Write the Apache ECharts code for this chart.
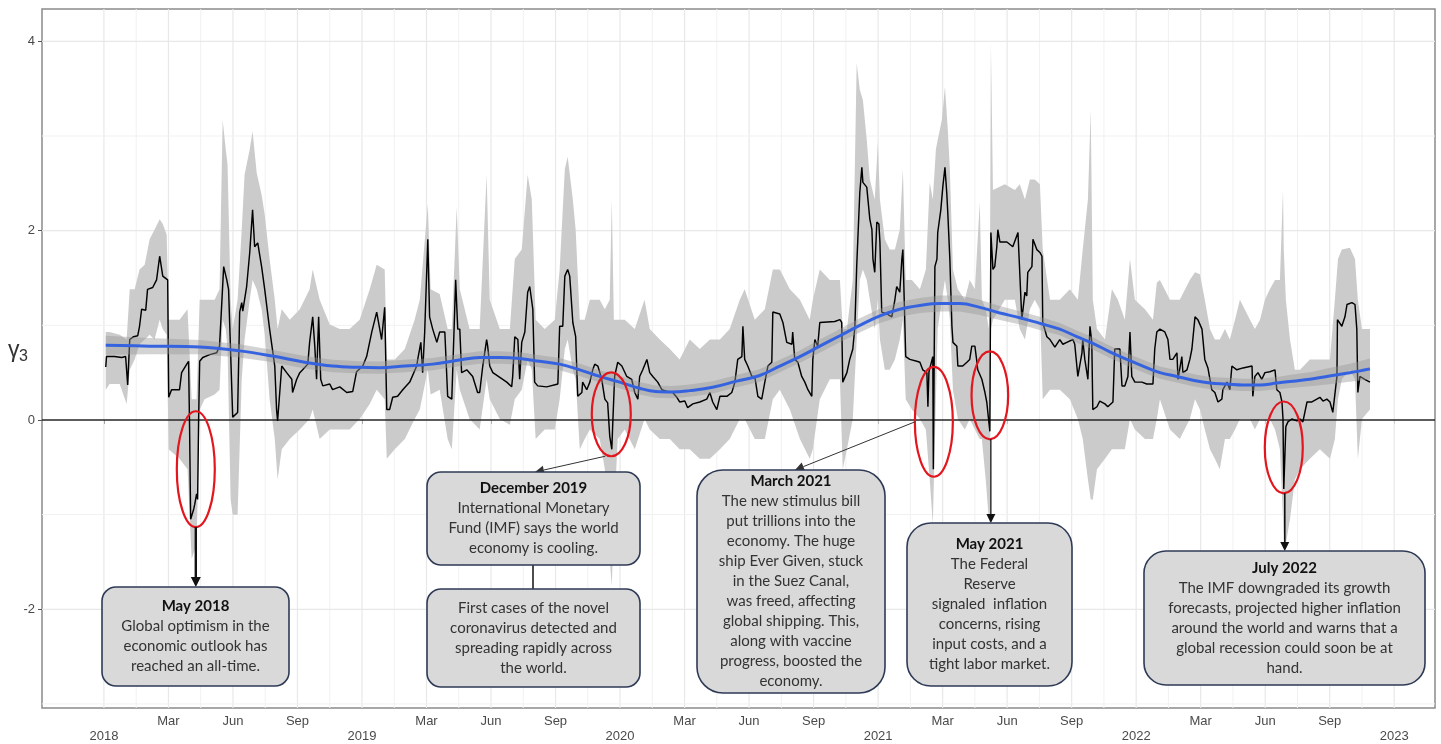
<!DOCTYPE html>
<html><head><meta charset="utf-8">
<script src="https://cdn.jsdelivr.net/npm/echarts@6/dist/echarts.min.js"></script>
<style>html,body{margin:0;padding:0;background:#fff}#c{width:1441px;height:744px}</style>
</head><body><div id="c"></div>
<script>
// ---------- DATA (time in decimal years) ----------
const gammaT = [
2018.007,2018.010,2018.041,2018.069,2018.084,2018.092,2018.100,2018.115,2018.131,2018.138,
2018.146,2018.162,2018.169,2018.189,2018.204,2018.216,2018.228,2018.247,2018.251,2018.262,
2018.293,2018.301,2018.321,2018.328,2018.332,2018.336,2018.348,2018.352,2018.359,2018.363,
2018.367,2018.371,2018.383,2018.410,2018.437,2018.448,2018.464,2018.476,2018.483,2018.499,
2018.518,2018.526,2018.534,2018.538,2018.553,2018.565,2018.576,2018.584,2018.596,2018.611,
2018.623,2018.642,2018.662,2018.669,2018.673,2018.689,2018.708,2018.728,2018.731,2018.747,
2018.759,2018.770,2018.790,2018.797,2018.809,2018.817,2018.824,2018.832,2018.840,2018.848,
2018.875,2018.886,2018.914,2018.941,2018.964,2018.979,2019.003,2019.018,2019.038,2019.057,
2019.076,2019.088,2019.096,2019.107,2019.119,2019.138,2019.158,2019.185,2019.212,2019.216,
2019.228,2019.235,2019.243,2019.255,2019.262,2019.274,2019.290,2019.301,2019.321,2019.332,
2019.348,2019.363,2019.371,2019.379,2019.386,2019.406,2019.429,2019.448,2019.456,2019.468,
2019.483,2019.487,2019.495,2019.507,2019.534,2019.561,2019.580,2019.584,2019.592,2019.604,
2019.611,2019.619,2019.631,2019.642,2019.650,2019.662,2019.669,2019.681,2019.716,2019.759,
2019.766,2019.778,2019.786,2019.797,2019.805,2019.817,2019.828,2019.836,2019.852,2019.855,
2019.871,2019.883,2019.894,2019.902,2019.914,2019.929,2019.941,2019.952,2019.960,2019.968,
2019.972,2019.979,2019.991,2020.007,2020.026,2020.045,2020.057,2020.069,2020.076,2020.088,
2020.104,2020.115,2020.127,2020.146,2020.162,2020.185,2020.204,2020.220,2020.231,2020.251,
2020.262,2020.282,2020.309,2020.336,2020.348,2020.359,2020.375,2020.387,2020.414,2020.433,
2020.445,2020.456,2020.472,2020.476,2020.483,2020.495,2020.511,2020.522,2020.534,2020.549,
2020.561,2020.573,2020.588,2020.592,2020.619,2020.631,2020.646,2020.666,2020.669,2020.677,
2020.689,2020.704,2020.716,2020.728,2020.743,2020.747,2020.755,2020.766,2020.774,2020.832,
2020.852,2020.859,2020.863,2020.879,2020.890,2020.902,2020.910,2020.917,2020.929,2020.937,
2020.941,2020.956,2020.968,2020.976,2020.980,2020.987,2020.995,2021.003,2021.007,2021.014,
2021.034,2021.053,2021.065,2021.072,2021.084,2021.092,2021.096,2021.103,2021.107,2021.123,
2021.150,2021.162,2021.173,2021.189,2021.193,2021.197,2021.200,2021.212,2021.214,2021.220,
2021.228,2021.231,2021.243,2021.251,2021.259,2021.266,2021.270,2021.278,2021.286,2021.290,
2021.305,2021.309,2021.328,2021.344,2021.355,2021.363,2021.375,2021.383,2021.386,2021.402,
2021.414,2021.421,2021.433,2021.437,2021.445,2021.452,2021.460,2021.464,2021.472,2021.499,
2021.522,2021.542,2021.549,2021.557,2021.569,2021.576,2021.580,2021.596,2021.600,2021.615,
2021.627,2021.635,2021.638,2021.654,2021.666,2021.685,2021.704,2021.716,2021.731,2021.755,
2021.762,2021.774,2021.790,2021.793,2021.801,2021.813,2021.821,2021.828,2021.832,2021.848,
2021.859,2021.879,2021.890,2021.910,2021.917,2021.937,2021.945,2021.956,2021.968,2021.976,
2021.983,2021.995,2022.022,2022.041,2022.065,2022.072,2022.080,2022.092,2022.111,2022.123,
2022.131,2022.142,2022.158,2022.162,2022.177,2022.181,2022.197,2022.208,2022.216,2022.228,
2022.239,2022.255,2022.266,2022.278,2022.293,2022.305,2022.317,2022.332,2022.336,2022.352,
2022.363,2022.371,2022.390,2022.414,2022.449,2022.452,2022.460,2022.472,2022.487,2022.499,
2022.518,2022.538,2022.545,2022.557,2022.565,2022.569,2022.572,2022.580,2022.588,2022.603,
2022.623,2022.635,2022.646,2022.662,2022.681,2022.700,2022.712,2022.724,2022.739,2022.751,
2022.762,2022.778,2022.780,2022.797,2022.809,2022.817,2022.836,2022.848,2022.855,2022.859,
2022.867,2022.886,2022.906];
const gammaV = [
0.56,0.67,0.67,0.66,0.67,0.37,0.85,0.88,0.89,0.99,
1.17,1.16,1.38,1.40,1.48,1.73,1.52,1.48,0.24,0.32,
0.32,0.50,0.59,0.62,-0.10,-1.05,-0.94,-0.89,-0.78,-0.84,
0.01,0.62,0.66,0.69,0.71,0.78,1.62,1.48,1.38,0.03,
0.08,1.14,1.24,1.15,1.41,1.77,2.22,1.83,1.87,1.62,
1.38,0.96,0.57,0.11,-0.01,0.57,0.50,0.43,0.29,0.43,
0.50,0.53,0.59,0.82,1.09,0.78,0.43,1.09,0.43,0.36,
0.38,0.32,0.35,0.29,0.30,0.51,0.57,0.67,0.93,1.14,
0.85,1.19,0.11,0.11,0.24,0.25,0.32,0.40,0.57,0.64,
0.82,0.50,0.93,1.91,1.09,0.96,0.82,0.93,0.93,0.25,
0.22,1.48,0.96,0.96,0.50,0.53,0.46,0.29,0.29,0.57,
0.85,0.78,0.57,0.50,0.45,0.40,0.35,0.46,0.88,0.85,
0.43,0.82,0.93,1.35,1.41,1.17,0.40,0.36,0.35,0.38,
0.99,0.99,1.52,1.59,1.52,1.03,0.88,0.25,0.29,0.40,
0.32,0.40,0.53,0.59,0.57,0.43,0.22,0.18,-0.17,-0.31,
-0.02,0.46,0.61,0.57,0.46,0.43,0.29,0.22,0.46,0.53,
0.64,0.50,0.46,0.40,0.32,0.30,0.29,0.24,0.19,0.20,
0.13,0.17,0.19,0.22,0.29,0.19,0.11,0.25,0.25,0.29,
0.40,0.64,0.67,0.99,0.64,0.57,0.46,0.46,0.25,0.22,
0.40,0.57,0.61,1.14,1.12,1.03,0.82,0.80,0.93,0.64,
0.61,0.46,0.40,0.32,0.25,0.64,0.85,0.78,1.03,1.04,
1.06,1.03,0.40,0.50,0.64,0.75,0.99,1.62,2.40,2.67,
2.51,2.46,2.12,2.01,1.70,1.56,2.09,2.07,1.88,1.14,
1.12,1.09,1.27,1.41,1.35,1.70,1.80,1.80,0.67,0.64,
0.62,0.61,0.53,0.50,0.14,0.51,0.50,0.67,-0.52,1.62,
1.70,1.98,2.22,2.47,2.67,2.40,2.19,1.70,0.99,0.82,
0.78,0.57,0.57,0.61,0.64,0.78,0.78,0.61,0.53,0.43,
0.29,0.19,-0.12,1.98,1.59,1.62,1.83,2.01,1.88,1.88,
1.83,1.98,1.98,1.06,1.35,1.31,1.56,1.62,1.91,1.80,
1.77,1.73,1.03,0.88,0.85,0.77,0.85,0.80,0.82,0.85,
0.80,0.46,0.71,0.85,0.64,0.43,0.99,0.82,0.11,0.14,
0.20,0.17,0.14,0.19,0.75,0.75,0.36,0.36,0.46,0.93,
0.46,0.40,0.40,0.38,0.38,0.75,0.93,0.96,0.93,0.85,
0.64,0.64,0.71,0.43,0.67,0.50,0.53,0.64,0.75,1.09,
1.06,0.96,0.64,0.55,0.32,0.29,0.19,0.22,0.32,0.40,
0.32,0.57,0.53,0.55,0.57,0.25,0.46,0.50,0.43,0.50,
0.51,0.53,0.32,0.29,0.19,0.01,-0.73,-0.07,-0.02,0.01,
-0.01,0.01,-0.02,0.19,0.19,0.22,0.24,0.20,0.22,0.19,
0.08,0.46,1.06,0.99,1.09,1.22,1.24,1.22,0.96,0.29,
0.46,0.43,0.40];

const bandT = [
2018.007,2018.022,2018.061,2018.088,2018.100,2018.119,2018.138,2018.158,2018.177,2018.196,
2018.216,2018.228,2018.243,2018.251,2018.293,2018.324,2018.340,2018.359,2018.371,2018.390,
2018.429,2018.448,2018.460,2018.472,2018.479,2018.491,2018.499,2018.518,2018.534,2018.545,
2018.565,2018.576,2018.592,2018.611,2018.623,2018.642,2018.662,2018.673,2018.689,2018.720,
2018.759,2018.797,2018.809,2018.836,2018.875,2018.914,2018.952,2018.991,2019.030,2019.057,
2019.088,2019.096,2019.127,2019.166,2019.204,2019.224,2019.255,2019.266,2019.301,2019.332,
2019.348,2019.367,2019.379,2019.417,2019.456,2019.483,2019.495,2019.534,2019.573,2019.592,
2019.619,2019.642,2019.658,2019.673,2019.708,2019.747,2019.766,2019.786,2019.797,2019.817,
2019.828,2019.844,2019.863,2019.883,2019.921,2019.941,2019.960,2019.968,2019.976,2019.991,
2020.018,2020.057,2020.095,2020.115,2020.154,2020.193,2020.231,2020.270,2020.309,2020.348,
2020.387,2020.425,2020.464,2020.483,2020.522,2020.561,2020.592,2020.619,2020.658,2020.697,
2020.735,2020.747,2020.774,2020.813,2020.852,2020.863,2020.879,2020.902,2020.917,2020.929,
2020.941,2020.956,2020.968,2020.987,2020.999,2021.007,2021.026,2021.045,2021.065,2021.084,
2021.096,2021.107,2021.131,2021.162,2021.185,2021.200,2021.212,2021.224,2021.231,2021.247,
2021.259,2021.270,2021.278,2021.290,2021.309,2021.336,2021.355,2021.375,2021.394,2021.402,
2021.417,2021.429,2021.433,2021.437,2021.445,2021.491,2021.530,2021.549,2021.569,2021.588,
2021.607,2021.627,2021.638,2021.666,2021.704,2021.743,2021.774,2021.793,2021.813,2021.824,
2021.832,2021.848,2021.879,2021.906,2021.929,2021.956,2021.976,2021.995,2022.034,2022.065,
2022.080,2022.092,2022.131,2022.169,2022.208,2022.228,2022.247,2022.266,2022.286,2022.305,
2022.324,2022.344,2022.363,2022.383,2022.402,2022.441,2022.460,2022.480,2022.499,2022.518,
2022.538,2022.557,2022.569,2022.572,2022.580,2022.596,2022.615,2022.635,2022.673,2022.712,
2022.751,2022.770,2022.782,2022.797,2022.828,2022.848,2022.859,2022.875,2022.906];
const bandHi = [
0.93,0.93,0.90,0.85,1.38,1.38,1.59,1.64,1.91,2.01,
2.12,2.07,1.96,1.06,1.06,1.17,0.22,0.22,1.27,1.27,
1.27,1.38,3.17,2.86,2.70,1.27,0.96,1.27,2.01,2.59,
2.86,3.05,2.61,2.38,2.17,1.70,1.27,0.96,1.17,1.06,
1.17,1.38,1.59,1.27,1.01,0.96,0.96,1.06,1.38,1.64,
1.59,0.64,0.64,0.75,1.06,1.27,2.28,1.38,1.33,0.96,
0.96,2.25,1.38,0.96,0.96,2.59,1.27,0.96,0.96,1.70,
1.80,2.59,2.33,1.06,0.96,1.06,1.59,2.65,2.78,2.33,
2.01,1.06,1.06,1.27,1.27,1.17,1.27,2.33,1.06,1.06,
1.06,0.96,1.27,0.96,0.85,0.75,0.64,0.85,0.75,0.85,
0.85,0.96,1.27,1.38,1.06,1.17,1.59,1.59,1.38,1.27,
1.06,1.27,1.59,1.48,1.48,0.96,0.96,1.48,3.77,3.49,
3.38,2.96,2.54,2.33,2.93,2.33,1.91,1.80,1.80,2.01,
2.65,1.48,1.48,1.38,1.59,2.51,2.33,2.86,2.96,3.17,
3.52,3.07,2.65,1.59,1.38,1.27,1.48,1.38,2.30,1.27,
1.17,0.96,1.27,3.99,2.43,2.49,2.43,2.49,2.33,2.54,
2.54,2.49,1.80,1.27,1.27,1.38,1.27,1.80,2.33,3.28,
1.27,0.96,0.85,1.38,1.27,1.06,1.70,1.27,1.17,1.06,
1.45,1.48,1.27,1.27,1.48,1.56,1.54,1.27,0.96,0.85,
0.85,0.96,0.85,1.06,1.27,1.06,0.96,1.06,1.27,1.38,
1.48,1.48,2.43,1.80,1.27,0.85,0.53,0.53,0.64,0.64,
0.64,1.27,1.70,1.80,1.82,1.70,1.27,0.96,0.96];
const bandLo = [
0.32,0.38,0.38,0.17,0.53,0.64,0.80,0.85,0.90,0.85,
1.06,0.96,0.90,-0.31,-0.41,-0.52,-1.47,-1.31,0.11,0.22,
0.27,0.32,1.06,0.96,0.75,-0.84,-1.00,-1.00,0.43,0.85,
1.27,1.48,1.38,1.17,0.90,0.22,-0.20,-0.63,-0.31,-0.20,
-0.10,0.01,0.11,-0.20,-0.10,-0.10,-0.10,0.01,0.17,0.32,
0.22,-0.41,-0.31,-0.20,0.01,0.11,0.53,0.27,0.32,-0.20,
-0.31,0.53,0.32,0.01,-0.10,0.43,0.22,0.01,-0.05,0.22,
0.32,0.64,0.53,-0.20,-0.10,-0.10,0.22,0.75,0.85,0.53,
0.43,-0.31,-0.20,-0.10,-0.20,-0.52,-1.47,-1.76,-1.05,-0.20,
-0.10,-0.31,0.01,-0.10,-0.20,-0.20,-0.31,-0.31,-0.41,-0.41,
-0.31,-0.20,0.01,0.01,-0.20,-0.20,0.22,0.32,0.11,-0.20,
-0.41,-0.31,0.22,0.43,0.43,-0.52,-0.31,0.01,0.85,1.48,
1.59,1.48,1.27,0.96,1.27,0.85,0.53,0.53,0.64,0.85,
1.06,0.22,0.11,0.01,-0.10,-0.63,-1.10,0.22,0.96,1.27,
1.48,1.27,1.06,0.32,0.01,-0.10,0.01,-0.10,-0.20,-0.20,
-0.63,-1.05,-1.10,0.96,1.06,1.27,1.27,0.96,0.85,1.17,
1.27,1.17,0.22,0.32,0.32,0.22,0.01,-0.20,-0.63,-0.84,
-0.84,-0.52,-0.41,-0.31,-0.31,-0.31,0.01,-0.10,-0.20,-0.20,
0.01,0.22,-0.10,-0.20,0.01,0.22,0.11,-0.10,-0.31,-0.41,
-0.52,-0.20,-0.20,-0.10,0.01,0.01,-0.10,0.01,0.01,0.01,
-0.10,-0.31,-1.05,-1.31,-1.31,-1.05,-0.63,-0.52,-0.41,-0.31,
-0.41,-0.20,0.22,0.43,0.53,0.43,-0.41,0.01,0.11];

const smoothT = [
2018.007,2018.177,2018.371,2018.526,2018.654,2018.778,2018.886,2018.991,2019.069,2019.166,
2019.274,2019.371,2019.456,2019.534,2019.611,2019.689,2019.766,2019.844,2019.921,2019.999,
2020.076,2020.138,2020.204,2020.270,2020.359,2020.452,2020.541,2020.619,2020.697,2020.774,
2020.852,2020.929,2021.007,2021.084,2021.162,2021.239,2021.317,2021.394,2021.472,2021.549,
2021.627,2021.704,2021.770,2021.832,2021.898,2021.964,2022.026,2022.092,2022.158,2022.220,
2022.286,2022.352,2022.414,2022.480,2022.545,2022.607,2022.673,2022.739,2022.828,2022.906];
const smoothV = [
0.79,0.78,0.77,0.73,0.675,0.61,0.57,0.556,0.553,0.57,
0.59,0.63,0.66,0.66,0.65,0.62,0.59,0.53,0.46,0.40,
0.335,0.30,0.295,0.31,0.345,0.41,0.47,0.57,0.67,0.78,
0.89,1.00,1.10,1.17,1.21,1.23,1.23,1.19,1.13,1.08,
1.02,0.96,0.88,0.81,0.72,0.64,0.57,0.50,0.46,0.42,
0.39,0.38,0.37,0.37,0.39,0.41,0.43,0.46,0.50,0.54];
const smoothSE = [
0.10,0.085,0.075,0.07,0.065,0.065,0.065,0.065,0.065,0.065,
0.065,0.065,0.065,0.065,0.065,0.065,0.065,0.065,0.065,0.065,
0.065,0.065,0.065,0.065,0.065,0.065,0.065,0.065,0.065,0.07,
0.07,0.075,0.075,0.08,0.08,0.085,0.085,0.08,0.075,0.07,
0.07,0.065,0.065,0.065,0.065,0.065,0.065,0.065,0.065,0.065,
0.065,0.065,0.065,0.065,0.065,0.07,0.075,0.085,0.095,0.11];

const yearLabels = ['2018','2019','2020','2021','2022','2023'];
const quarterLabels = ['Mar','Jun','Sep'];
const yTickValues = [-2, 0, 2, 4];

// annotation events (ellipse centre & half-extent in data units)
const eventT  = [2018.356, 2019.966, 2021.216, 2021.433, 2022.572];
const eventV  = [-0.52, 0.06, -0.02, 0.26, -0.29];
const eventRT = [0.0736, 0.0756, 0.0736, 0.071, 0.0736];
const eventRV = [0.612, 0.443, 0.58, 0.464, 0.485];

const boxTexts = [
  ['May 2018','Global optimism in the','economic outlook has','reached an all-time.'],
  ['December 2019','International Monetary','Fund (IMF) says the world','economy is cooling.'],
  ['First cases of the novel','coronavirus detected and','spreading rapidly across','the world.'],
  ['March 2021','The new stimulus bill','put trillions into the','economy. The huge','ship Ever Given, stuck','in the Suez Canal,','was freed, affecting','global shipping. This,','along with vaccine','progress, boosted the','economy.'],
  ['May 2021','The Federal','Reserve','signaled  inflation','concerns, rising','input costs, and a','tight labor market.'],
  ['July 2022','The IMF downgraded its growth','forecasts, projected higher inflation','around the world and warns that a','global recession could soon be at','hand.']
];
const boxHasTitle = [true, true, false, true, true, true];

// ---------- CHART ----------
const X_MIN = 2017.760, X_MAX = 2023.158, Y_MIN = -3.043, Y_MAX = 4.342;
const chart = echarts.init(document.getElementById('c'), null, {renderer: 'canvas'});

const xTicks = [];
for (let y = 2018; y < 2023; y++) for (let q = 0; q < 4; q++) xTicks.push(y + q * 0.25);
xTicks.push(2023);

const vGrid = [];
xTicks.forEach(t => vGrid.push([t, 0, 1]));
for (let i = 0; i < xTicks.length - 1; i++) vGrid.push([xTicks[i] + 0.125, 0, 0]);
const hGrid = [[X_MIN, -3, 0], [X_MIN, -2, 1], [X_MIN, -1, 0], [X_MIN, 1, 0], [X_MIN, 2, 1], [X_MIN, 3, 0], [X_MIN, 4, 1]];

function lineEl(a, b, stroke, w) {
  return {type: 'line', shape: {x1: a[0], y1: a[1], x2: b[0], y2: b[1]}, style: {stroke: stroke, lineWidth: w}};
}
function ribbon(T, hi, lo, fill, z) {
  return {
    type: 'custom', z: z, silent: true, clip: true,
    encode: {x: 0, y: 1}, data: [[T[0], lo[0]]],
    renderItem: function (p, api) {
      const n = Math.min(T.length, hi.length, lo.length);
      const pts = [];
      for (let i = 0; i < n; i++) pts.push(api.coord([T[i], hi[i]]));
      for (let i = n - 1; i >= 0; i--) pts.push(api.coord([T[i], lo[i]]));
      return {type: 'polygon', shape: {points: pts}, style: {fill: fill}};
    }
  };
}
const nG = Math.min(gammaT.length, gammaV.length);
const gammaData = [];
for (let i = 0; i < nG; i++) gammaData.push([gammaT[i], gammaV[i]]);
const smoothData = smoothT.map((t, i) => [t, smoothV[i]]);
const smoothHi = smoothV.map((v, i) => v + smoothSE[i]);
const smoothLo = smoothV.map((v, i) => v - smoothSE[i]);

const axisFont = '"Liberation Sans", Arial, sans-serif';
const option = {
  animation: false,
  backgroundColor: '#ffffff',
  grid: {left: 42, right: 6, top: 9, bottom: 35, show: true, borderColor: '#8a8a8a', borderWidth: 1.5, backgroundColor: 'transparent'},
  xAxis: {
    type: 'value', min: X_MIN, max: X_MAX,
    axisLine: {show: false},
    splitLine: {show: false},
    axisTick: {show: true, customValues: xTicks, length: 4, lineStyle: {color: '#555', width: 1}},
    axisLabel: {
      customValues: xTicks, margin: 6, color: '#4a4a4a', fontSize: 13, lineHeight: 15, fontFamily: axisFont,
      formatter: function (v) {
        const y = Math.floor(v + 1e-6), q = Math.round((v - y) * 4);
        return q === 0 ? '\n' + yearLabels[y - 2018] : quarterLabels[q - 1];
      }
    }
  },
  yAxis: {
    type: 'value', min: Y_MIN, max: Y_MAX,
    axisLine: {show: false},
    splitLine: {show: false},
    axisTick: {show: true, customValues: yTickValues, length: 4, lineStyle: {color: '#555', width: 1}},
    axisLabel: {customValues: yTickValues, margin: 7, color: '#4a4a4a', fontSize: 13, fontFamily: axisFont}
  },
  series: [
    { // vertical grid
      type: 'custom', z: 1, silent: true, clip: true, encode: {x: 0, y: 1}, data: vGrid,
      renderItem: function (p, api) {
        const t = api.value(0), major = api.value(2);
        return lineEl(api.coord([t, Y_MIN]), api.coord([t, Y_MAX]), major ? '#e8e8e8' : '#f1f1f1', major ? 1.2 : 1);
      }
    },
    { // horizontal grid
      type: 'custom', z: 1, silent: true, clip: true, encode: {x: 0, y: 1}, data: hGrid,
      renderItem: function (p, api) {
        const v = api.value(1), major = api.value(2);
        return lineEl(api.coord([X_MIN, v]), api.coord([X_MAX, v]), major ? '#e8e8e8' : '#f1f1f1', major ? 1.2 : 1);
      }
    },
    ribbon(bandT, bandHi, bandLo, '#cbcbcb', 2),
    { // zero reference line
      type: 'custom', z: 3, silent: true, clip: true, encode: {x: 0, y: 1}, data: [[X_MIN, 0]],
      renderItem: function (p, api) {
        return lineEl(api.coord([X_MIN, 0]), api.coord([X_MAX, 0]), '#262626', 1.5);
      }
    },
    {
      type: 'line', z: 4, silent: true, data: gammaData, symbol: 'none', showSymbol: false,
      lineStyle: {color: '#000', width: 1.45}, clip: true
    },
    ribbon(smoothT, smoothHi, smoothLo, 'rgba(150,150,150,0.42)', 5),
    {
      type: 'line', z: 6, silent: true, data: smoothData, symbol: 'none', showSymbol: false, smooth: 0.4,
      lineStyle: {color: '#3563e0', width: 3}
    },
    { // red ellipses
      type: 'custom', z: 7, silent: true, clip: false, encode: {x: 0, y: 1},
      data: eventT.map((t, i) => [t, eventV[i], eventRT[i], eventRV[i]]),
      renderItem: function (p, api) {
        const c = api.coord([api.value(0), api.value(1)]);
        const s = api.size([api.value(2), api.value(3)]);
        return {type: 'ellipse', shape: {cx: c[0], cy: c[1], rx: s[0], ry: s[1]}, style: {fill: 'none', stroke: '#e3161e', lineWidth: 2.2}};
      }
    }
  ]
};
chart.setOption(option);

// ---------- ANNOTATIONS ----------
const px = (t, v) => chart.convertToPixel({gridIndex: 0}, [t, v]);
const ell = eventT.map((t, i) => {
  const c = px(t, eventV[i]), e = px(t + eventRT[i], eventV[i] - eventRV[i]);
  return {cx: c[0], cy: c[1], rx: e[0] - c[0], ry: e[1] - c[1]};
});
// box layout (pixels)
const boxes = [
  {x: 102, y: 587, w: 187, h: 99, r: 14},
  {x: 427, y: 472, w: 213, h: 93, r: 14},
  {x: 427, y: 589, w: 213, h: 98, r: 14},
  {x: 697, y: 470, w: 188, h: 223, r: 26},
  {x: 907, y: 523, w: 165, h: 163, r: 24},
  {x: 1144, y: 551, w: 281, h: 134, r: 22}
];
const G = [];
const textFont = 'Lato, "Open Sans", sans-serif';
boxes.forEach((b, k) => {
  G.push({type: 'rect', z: 100, shape: {x: b.x, y: b.y, width: b.w, height: b.h, r: b.r},
    style: {fill: '#d9d9d9', stroke: '#2e3a55', lineWidth: 1.6}});
  const lines = boxTexts[k], n = lines.length, cy = b.y + b.h / 2;
  lines.forEach((s, i) => {
    const bold = boxHasTitle[k] && i === 0;
    G.push({type: 'text', z: 101, x: b.x + b.w / 2, y: cy + (i - (n - 1) / 2) * 20,
      style: {text: s, fontFamily: textFont, fontSize: 15, fontWeight: bold ? 'bold' : 'normal',
        fill: bold ? '#111' : '#333', align: 'center', verticalAlign: 'middle'}});
  });
});
function arrow(x1, y1, x2, y2, w, color, hl, hw) {
  const dx = x2 - x1, dy = y2 - y1, L = Math.hypot(dx, dy), ux = dx / L, uy = dy / L;
  const bx = x2 - ux * hl, by = y2 - uy * hl;
  G.push({type: 'line', z: 99, shape: {x1: x1, y1: y1, x2: bx, y2: by}, style: {stroke: color, lineWidth: w}});
  G.push({type: 'polygon', z: 99, shape: {points: [[x2, y2], [bx - uy * hw, by + ux * hw], [bx + uy * hw, by - ux * hw]]}, style: {fill: color}});
}
arrow(ell[0].cx, ell[0].cy + ell[0].ry, ell[0].cx, boxes[0].y, 2.4, '#111', 10, 5);
arrow(ell[1].cx - 6, ell[1].cy + ell[1].ry, boxes[1].x + 108, boxes[1].y, 1, '#333', 9, 4.5);
arrow(ell[2].cx - ell[2].rx, ell[2].cy, boxes[3].x + 98, boxes[3].y, 1, '#333', 9, 4.5);
arrow(ell[3].cx + 1, ell[3].cy + ell[3].ry, ell[3].cx + 1, boxes[4].y, 1.3, '#111', 9, 4.5);
arrow(ell[4].cx + 1, ell[4].cy + ell[4].ry, ell[4].cx + 1, boxes[5].y, 1.6, '#111', 9, 4.5);
G.push({type: 'line', z: 99, shape: {x1: boxes[1].x + 106, y1: boxes[1].y + boxes[1].h, x2: boxes[1].x + 106, y2: boxes[2].y}, style: {stroke: '#111', lineWidth: 1.5}});
// y-axis title γ3
G.push({type: 'text', z: 100, x: 8, y: 351, style: {text: 'γ', fontFamily: axisFont, fontSize: 23, fill: '#333', align: 'left', verticalAlign: 'middle'}});
G.push({type: 'text', z: 100, x: 19, y: 357, style: {text: '3', fontFamily: axisFont, fontSize: 16, fill: '#333', align: 'left', verticalAlign: 'middle'}});
chart.setOption({graphic: {elements: G}});
</script>
</body></html>
